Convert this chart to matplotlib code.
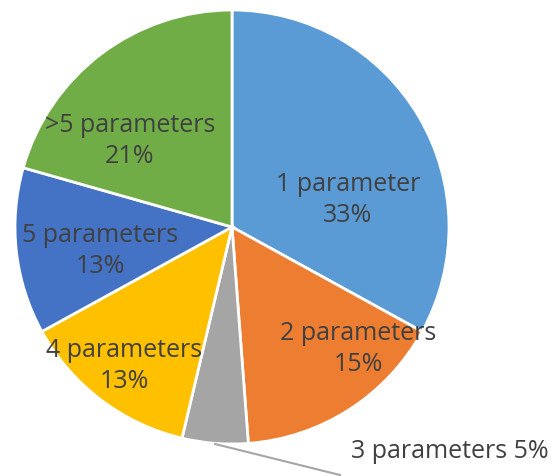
import matplotlib.pyplot as plt

labels = ["1 parameter", "2 parameters", "3 parameters", "4 parameters", "5 parameters", ">5 parameters"]
shares = [33.0, 15.8, 4.9, 13.3, 12.4, 20.6]
pct_text = ["33%", "15%", "5%", "13%", "13%", "21%"]
colors = ["#5B9BD5", "#ED7D31", "#A5A5A5", "#FFC000", "#4472C4", "#70AD47"]

# label anchor points in image pixels (x, y from top)
label_px = [(348, 200), (358, 349), None, (124, 366), (100, 251), (130, 141)]

W, H = 554, 477
CX, CY, R = 232, 228, 217

plt.rcParams['font.family'] = ['Open Sans', 'DejaVu Sans']

fig = plt.figure(figsize=(W / 100, H / 100), dpi=100)
ax = fig.add_axes([0, 0, 1, 1])


def px(x, y):
    return (x - CX) / R, (CY - y) / R


ax.pie(shares, colors=colors, startangle=90, counterclock=False, radius=1,
       wedgeprops=dict(edgecolor="white", linewidth=2))

ax.set_xlim(-CX / R, (W - CX) / R)
ax.set_ylim(-(H - CY) / R, CY / R)
ax.set_aspect("equal")
ax.axis("off")

txt = "#404040"
for name, pct, pos in zip(labels, pct_text, label_px):
    if pos is None:
        continue
    ax.text(*px(*pos), f"{name}\n{pct}", ha="center", va="center",
            fontsize=18, color=txt, linespacing=1.35)

# outside label for the small slice
ax.plot(*zip(px(215, 445), px(340, 476)), color="#A6A6A6", linewidth=1.5,
        clip_on=False)
ax.text(*px(351, 452), f"{labels[2]} {pct_text[2]}", ha="left", va="center",
        fontsize=18, color=txt)

fig.savefig("out.png", dpi=100)
